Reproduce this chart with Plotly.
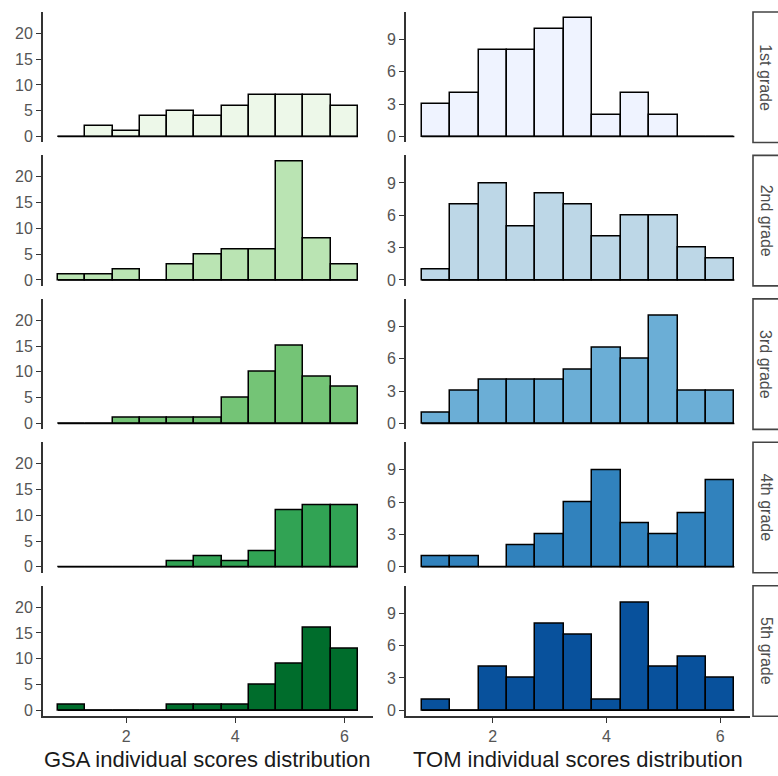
import plotly.graph_objects as go

# bin centres shared by both score distributions (bin width 0.5)
bin_centers = [1.0, 1.5, 2.0, 2.5, 3.0, 3.5, 4.0, 4.5, 5.0, 5.5, 6.0]
bin_width = 0.5

grades = ["1st grade", "2nd grade", "3rd grade", "4th grade", "5th grade"]

gsa_1st = [0, 2, 1, 4, 5, 4, 6, 8, 8, 8, 6]
gsa_2nd = [1, 1, 2, 0, 3, 5, 6, 6, 23, 8, 3]
gsa_3rd = [0, 0, 1, 1, 1, 1, 5, 10, 15, 9, 7]
gsa_4th = [0, 0, 0, 0, 1, 2, 1, 3, 11, 12, 12]
gsa_5th = [1, 0, 0, 0, 1, 1, 1, 5, 9, 16, 12]

tom_1st = [3, 4, 8, 8, 10, 11, 2, 4, 2, 0, 0]
tom_2nd = [1, 7, 9, 5, 8, 7, 4, 6, 6, 3, 2]
tom_3rd = [1, 3, 4, 4, 4, 5, 7, 6, 10, 3, 3]
tom_4th = [1, 1, 0, 2, 3, 6, 9, 4, 3, 5, 8]
tom_5th = [1, 0, 4, 3, 8, 7, 1, 10, 4, 5, 3]

gsa_counts = [gsa_1st, gsa_2nd, gsa_3rd, gsa_4th, gsa_5th]
tom_counts = [tom_1st, tom_2nd, tom_3rd, tom_4th, tom_5th]

gsa_colors = ["#EDF8E9", "#BAE4B3", "#74C476", "#31A354", "#006D2C"]
tom_colors = ["#EFF3FF", "#BDD7E7", "#6BAED6", "#3182BD", "#08519C"]

gsa_ticks = [0, 5, 10, 15, 20]
tom_ticks = [0, 3, 6, 9]
x_ticks = [2, 4, 6]

W, H = 778, 776
col_px = [(43, 373), (406, 750)]
row_top_px = [12, 156, 300, 444, 588]
row_h = 131
strip_px = (753, 790)


def px_x(p):
    return p / W


def px_y(p):
    return 1 - p / H


lo_edge = bin_centers[0] - bin_width / 2
hi_edge = bin_centers[-1] + bin_width / 2
pad = (hi_edge - lo_edge) * 0.05

fig = go.Figure()
layout = {}
shapes = []
annotations = []

for r in range(5):
    for c in range(2):
        k = r * 2 + c + 1
        xa = "x" if k == 1 else f"x{k}"
        ya = "y" if k == 1 else f"y{k}"
        counts = (gsa_counts if c == 0 else tom_counts)[r]
        color = (gsa_colors if c == 0 else tom_colors)[r]
        ticks = gsa_ticks if c == 0 else tom_ticks
        ymax = max(max(v) for v in (gsa_counts if c == 0 else tom_counts))

        fig.add_trace(go.Scatter(
            x=[lo_edge, hi_edge], y=[0, 0], mode="lines",
            line=dict(color="black", width=1.5),
            xaxis=xa, yaxis=ya, showlegend=False, hoverinfo="skip",
        ))
        fig.add_trace(go.Bar(
            x=bin_centers, y=counts, width=bin_width,
            marker=dict(color=color, line=dict(color="black", width=1.5)),
            xaxis=xa, yaxis=ya, showlegend=False,
        ))

        x0, x1 = col_px[c]
        top = row_top_px[r]
        bot = top + row_h
        bottom_row = r == 4
        layout["xaxis" if k == 1 else f"xaxis{k}"] = dict(
            domain=[px_x(x0), px_x(x1)], anchor=ya,
            range=[lo_edge - pad, hi_edge + pad],
            tickvals=x_ticks, showticklabels=bottom_row,
            ticks="outside" if bottom_row else "", ticklen=5,
            tickwidth=1.3, tickcolor="#333333",
            showline=bottom_row, linecolor="#333333", linewidth=1.8,
            showgrid=False, zeroline=False,
            tickfont=dict(size=16, color="#555555"),
        )
        layout["yaxis" if k == 1 else f"yaxis{k}"] = dict(
            domain=[px_y(bot), px_y(top)], anchor=xa,
            range=[-ymax * 0.05, ymax * 1.05],
            tickvals=ticks, ticks="outside", ticklen=5,
            tickwidth=1.3, tickcolor="#333333",
            showline=True, linecolor="#333333", linewidth=1.8,
            showgrid=False, zeroline=False,
            tickfont=dict(size=16, color="#555555"),
        )

        if c == 1:
            shapes.append(dict(
                type="rect", xref="paper", yref="paper",
                x0=px_x(strip_px[0]), x1=px_x(strip_px[1]),
                y0=px_y(bot), y1=px_y(top),
                line=dict(color="#444444", width=1.6), fillcolor="white",
            ))
            annotations.append(dict(
                text=grades[r], xref="paper", yref="paper",
                x=px_x(766), y=px_y(top + row_h / 2),
                xanchor="center", yanchor="middle",
                textangle=90, showarrow=False,
                font=dict(size=16, color="#4d4d4d"),
            ))

annotations.append(dict(
    text="GSA individual scores distribution", xref="paper", yref="paper",
    x=px_x((col_px[0][0] + col_px[0][1]) / 2), y=px_y(762),
    xanchor="center", yanchor="middle",
    showarrow=False, font=dict(size=22, color="#1a1a1a"),
))
annotations.append(dict(
    text="TOM individual scores distribution", xref="paper", yref="paper",
    x=px_x((col_px[1][0] + col_px[1][1]) / 2), y=px_y(762),
    xanchor="center", yanchor="middle",
    showarrow=False, font=dict(size=22, color="#1a1a1a"),
))

fig.update_layout(
    width=W, height=H,
    margin=dict(l=0, r=0, t=0, b=0),
    paper_bgcolor="white", plot_bgcolor="white",
    font=dict(family="Liberation Sans, Arial, sans-serif"),
    bargap=0, shapes=shapes, annotations=annotations,
    **layout,
)

# drop the default page margin so the figure fills the window exactly
fig.write_html(
    "out.html",
    config={"displayModeBar": False},
    post_script="document.body.style.margin='0';"
                "document.body.style.overflow='hidden';",
)
